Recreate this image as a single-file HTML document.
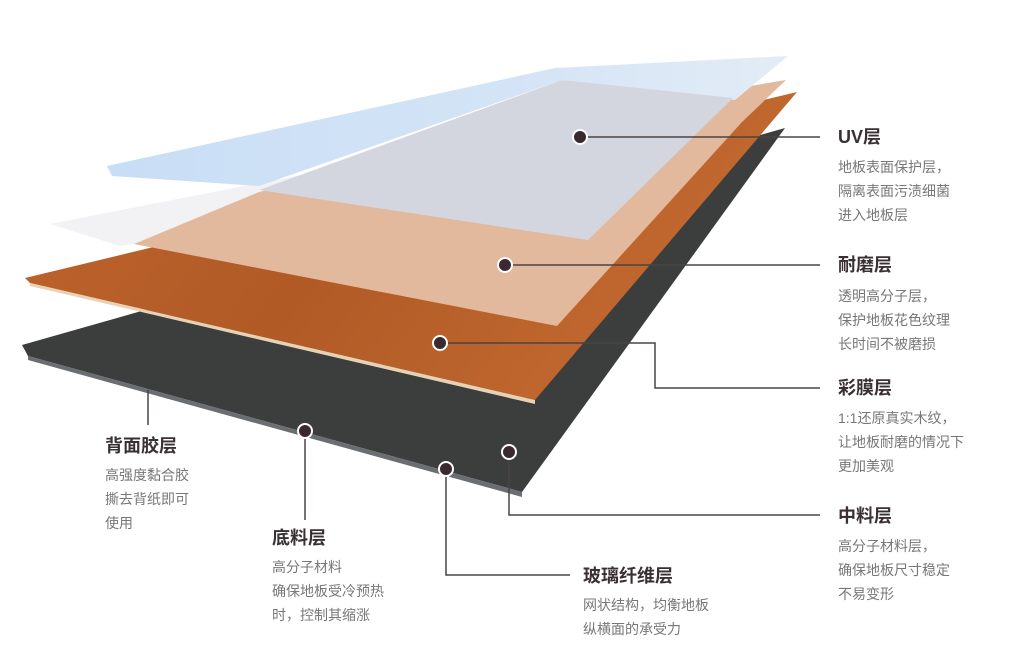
<!DOCTYPE html>
<html><head><meta charset="utf-8"><style>
body{margin:0;width:1024px;height:653px;background:#fff;position:relative;overflow:hidden;font-family:"Liberation Sans","Noto Sans CJK SC",sans-serif}
.t{position:absolute;font-weight:bold;font-size:18px;color:#3a3034;line-height:22px;white-space:nowrap}
.b{position:absolute;font-size:14px;color:#777;line-height:24px;white-space:nowrap}
svg{position:absolute;left:0;top:0}
</style></head><body>
<svg width="1024" height="653">
<defs>
<linearGradient id="wood" x1="0" y1="0" x2="1" y2="0.3"><stop offset="0" stop-color="#c0652e"/><stop offset="0.5" stop-color="#b15a26"/><stop offset="1" stop-color="#c36a30"/></linearGradient>
<linearGradient id="blue" x1="0" y1="0" x2="1" y2="0"><stop offset="0" stop-color="#c8def6"/><stop offset="0.6" stop-color="#d4e4f6"/><stop offset="1" stop-color="#e3ecf6"/></linearGradient>
</defs>
<polygon points="22,345 785,128 522,492 28,356" fill="#3b3e3c"/>
<polygon points="28,356 522,492 522,497 28,360" fill="#6a6d72"/>
<polygon points="25,278 797,92 535,400 30,283" fill="url(#wood)"/>
<polygon points="30,283 535,400 535,404 30,286" fill="#e8d2b4"/>
<polygon points="50,224 786,80 300,175 259,192 134,244 120,246" fill="#f2f2f5"/>
<polygon points="134,244 259,192 560,118 786,80 742,122 557,326" fill="#e2b99c"/>
<polygon points="107,166 555,68 788,56 735,100 562,80 259,186 112,176" fill="url(#blue)"/>
<polygon points="562,80 733,98 588,240 259,190" fill="#d3d6de"/>
<g stroke="#4a4346" stroke-width="1.5" fill="none">
<polyline points="580,137 820,137"/>
<polyline points="505,265 820,265"/>
<polyline points="440,343 655,343 655,388 820,388"/>
<polyline points="509,452 509,515 820,515"/>
<polyline points="446,469 446,575 570,575"/>
<polyline points="305,431 305,520"/>
<polyline points="148,390 148,425"/>
</g>
<g fill="#3a2a30" stroke="#fff" stroke-width="2">
<circle cx="580" cy="137" r="7"/><circle cx="505" cy="265" r="7"/><circle cx="440" cy="343" r="7"/>
<circle cx="305" cy="431" r="7"/><circle cx="446" cy="469" r="7"/><circle cx="509" cy="452" r="7"/>
</g>
</svg>
<div class="t" style="left:838px;top:126px">UV层</div>
<div class="b" style="left:838px;top:155px">地板表面保护层，<br>隔离表面污渍细菌<br>进入地板层</div>
<div class="t" style="left:838px;top:254px">耐磨层</div>
<div class="b" style="left:838px;top:284px">透明高分子层，<br>保护地板花色纹理<br>长时间不被磨损</div>
<div class="t" style="left:838px;top:377px">彩膜层</div>
<div class="b" style="left:838px;top:406px">1:1还原真实木纹，<br>让地板耐磨的情况下<br>更加美观</div>
<div class="t" style="left:838px;top:505px">中料层</div>
<div class="b" style="left:838px;top:534px">高分子材料层，<br>确保地板尺寸稳定<br>不易变形</div>
<div class="t" style="left:583px;top:565px">玻璃纤维层</div>
<div class="b" style="left:583px;top:593px">网状结构，均衡地板<br>纵横面的承受力</div>
<div class="t" style="left:272px;top:527px">底料层</div>
<div class="b" style="left:272px;top:555px">高分子材料<br>确保地板受冷预热<br>时，控制其缩涨</div>
<div class="t" style="left:105px;top:435px">背面胶层</div>
<div class="b" style="left:105px;top:463px">高强度黏合胶<br>撕去背纸即可<br>使用</div>
</body></html>
